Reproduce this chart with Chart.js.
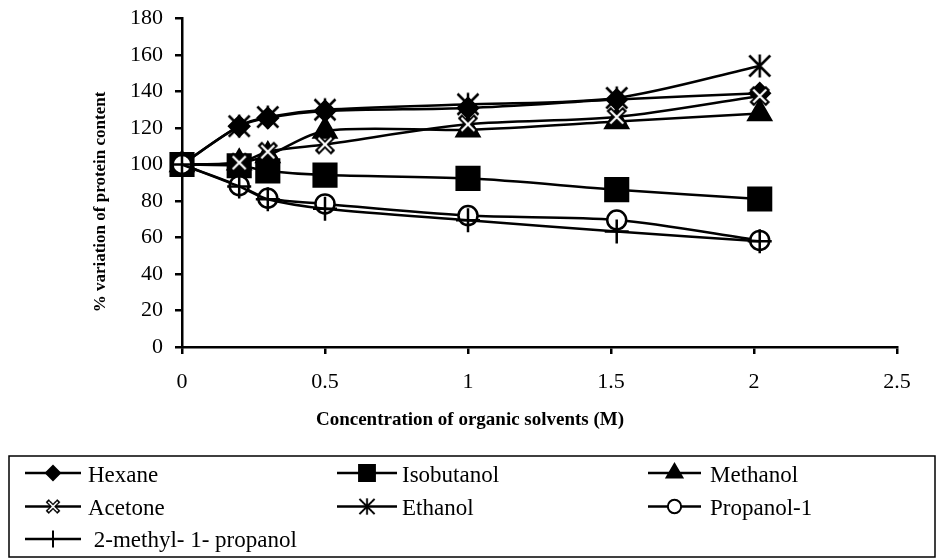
<!DOCTYPE html>
<html>
<head>
<meta charset="utf-8">
<script src="https://cdn.jsdelivr.net/npm/chart.js@4"></script>
<style>
html,body{margin:0;padding:0;background:#fff;}
#wrap{width:940px;height:559px;position:relative;}
</style>
</head>
<body>
<div id="wrap"><canvas id="c" width="940" height="559"></canvas></div>
<script>
// ---- data ----
const xValues = [0, 0.2, 0.3, 0.5, 1, 1.52, 2.02];
const seriesNames = ["Hexane", "Isobutanol", "Methanol", "Acetone", "Ethanol", "Propanol-1", " 2-methyl- 1- propanol"];
const hexane = [100, 121, 125.5, 129.3, 131, 135.6, 139];
const isobutanol = [100, 99.3, 96.5, 94.2, 92.4, 86.2, 81.1];
const methanol = [100, 101, 105, 118.4, 119, 123.5, 128];
const acetone = [100, 101, 107, 111, 122, 126, 137.5];
const ethanol = [100, 121, 126, 130, 133, 136.5, 154];
const propanol1 = [100, 88.4, 81.5, 78.4, 72, 69.6, 58.4];
const methylPropanol = [100, 88, 81, 75.8, 69.5, 63.3, 58];
const xTickValues = [0, 0.5, 1, 1.5, 2, 2.5];
const yTickValues = [0, 20, 40, 60, 80, 100, 120, 140, 160, 180];
const xTitle = "Concentration of organic solvents (M)";
const yTitle = "% variation of protein content";

// ---- custom marker glyphs ----
function makeAcetoneMarker(){
  const c = document.createElement('canvas'); c.width = 22; c.height = 22;
  const g = c.getContext('2d');
  g.lineCap = 'square';
  g.strokeStyle = '#000'; g.lineWidth = 6;
  g.beginPath(); g.moveTo(5,5); g.lineTo(17,17); g.moveTo(17,5); g.lineTo(5,17); g.stroke();
  g.strokeStyle = '#fff'; g.lineWidth = 2.2; g.lineCap = 'butt';
  g.beginPath(); g.moveTo(4.5,4.5); g.lineTo(17.5,17.5); g.moveTo(17.5,4.5); g.lineTo(4.5,17.5); g.stroke();
  return c;
}
function makeEthanolMarker(){
  const c = document.createElement('canvas'); c.width = 26; c.height = 26;
  const g = c.getContext('2d');
  g.strokeStyle = '#000'; g.lineWidth = 2.5;
  g.beginPath();
  g.moveTo(13,1.5); g.lineTo(13,24.5);
  g.moveTo(2.5,2.5); g.lineTo(23.5,23.5);
  g.moveTo(23.5,2.5); g.lineTo(2.5,23.5);
  g.stroke();
  return c;
}
const acetoneMarker = makeAcetoneMarker();
const ethanolMarker = makeEthanolMarker();

const seriesValues = [hexane, isobutanol, methanol, acetone, ethanol, propanol1, methylPropanol];
const markerStyles = [
  {pointStyle:'rectRot', radius:10, bg:'#000'},
  {pointStyle:'rect', radius:16, bg:'#000'},
  {pointStyle:'triangle', radius:13, bg:'#000'},
  {pointStyle:acetoneMarker, radius:11, bg:'#000'},
  {pointStyle:ethanolMarker, radius:12, bg:'#000'},
  {pointStyle:'circle', radius:9.5, bg:'#fff'},
  {pointStyle:'cross', radius:12, bg:'#000'}
];

const datasets = seriesValues.map((vals, i) => ({
  label: seriesNames[i],
  data: xValues.map((x, j) => ({x: x, y: vals[j]})),
  borderColor: '#000',
  borderWidth: 2.5,
  tension: 0.3,
  pointStyle: markerStyles[i].pointStyle,
  pointRadius: markerStyles[i].radius,
  pointBackgroundColor: markerStyles[i].bg,
  pointBorderColor: '#000',
  pointBorderWidth: 2.5,
  fill: false,
  clip: false,
  order: 20 - i
}));

const FONT = "'Liberation Serif', 'Times New Roman', serif";

const decorPlugin = {
  id: 'decor',
  afterDraw(chart) {
    const ctx = chart.ctx;
    ctx.save();
    // axis titles
    ctx.fillStyle = '#000';
    ctx.textAlign = 'center';
    ctx.textBaseline = 'middle';
    ctx.font = "bold 19px " + FONT;
    ctx.fillText(xTitle, 470, 420);
    ctx.save();
    ctx.translate(101, 202);
    ctx.rotate(-Math.PI/2);
    ctx.font = "bold 17px " + FONT;
    ctx.fillText(yTitle, 0, 0);
    ctx.restore();

    // legend box
    ctx.strokeStyle = '#000';
    ctx.lineWidth = 1.5;
    ctx.strokeRect(9, 456, 926, 101);
    const lineStart = [25, 337, 648];
    const lineEnd = [81, 397, 701];
    const textX = [88, 402, 710];
    const rowY = [473, 506.5, 539];
    const baseY = [482, 515, 547];
    ctx.font = "23px " + FONT;
    ctx.textAlign = 'left';
    ctx.textBaseline = 'alphabetic';
    chart.data.datasets.forEach((ds, i) => {
      const col = i % 3, row = Math.floor(i / 3);
      const y = rowY[row];
      ctx.strokeStyle = '#000';
      ctx.lineWidth = 2.5;
      ctx.beginPath();
      ctx.moveTo(lineStart[col], y);
      ctx.lineTo(lineEnd[col], y);
      ctx.stroke();
      const mx = (lineStart[col] + lineEnd[col]) / 2;
      const st = markerStyles[i];
      if (typeof st.pointStyle === 'object') {
        const im = st.pointStyle;
        const w = im.width * 0.72, h = im.height * 0.72;
        ctx.drawImage(im, mx - w/2, y - h/2, w, h);
      } else {
        ctx.fillStyle = st.bg;
        ctx.strokeStyle = '#000';
        ctx.lineWidth = 2;
        Chart.helpers.drawPoint(ctx, {pointStyle: st.pointStyle, radius: st.radius * 0.7, borderWidth: 2, rotation: 0}, mx, y);
      }
      ctx.fillStyle = '#000';
      ctx.fillText(ds.label, textX[col], baseY[row]);
    });
    ctx.restore();
  }
};

Chart.defaults.color = '#000';
Chart.defaults.font.family = FONT;

new Chart(document.getElementById('c'), {
  type: 'line',
  data: { datasets: datasets },
  options: {
    responsive: false,
    animation: false,
    devicePixelRatio: 1,
    layout: { padding: { left: 0, top: 17, right: 43, bottom: 0 } },
    plugins: { legend: { display: false }, tooltip: { enabled: false } },
    scales: {
      x: {
        type: 'linear',
        min: 0, max: 2.5,
        afterBuildTicks: (s) => { s.ticks = xTickValues.map(v => ({value: v})); },
        afterFit: (s) => { s.height = 212; s.paddingLeft = 0; s.paddingRight = 0; },
        ticks: { font: { size: 22, family: FONT }, padding: 15, maxRotation: 0, callback: (v) => String(v) },
        grid: { display: true, drawOnChartArea: false, drawTicks: true, tickLength: 7, color: '#000', lineWidth: 2.5 },
        border: { display: true, color: '#000', width: 2.5 }
      },
      y: {
        type: 'linear',
        min: 0, max: 180,
        afterBuildTicks: (s) => { s.ticks = yTickValues.map(v => ({value: v})); },
        afterFit: (s) => { s.width = 182; s.paddingTop = 0; s.paddingBottom = 0; },
        ticks: { font: { size: 22, family: FONT }, padding: 12, callback: (v) => String(v) },
        grid: { display: true, drawOnChartArea: false, drawTicks: true, tickLength: 7, color: '#000', lineWidth: 2.5 },
        border: { display: true, color: '#000', width: 2.5 }
      }
    }
  },
  plugins: [decorPlugin]
});
</script>
</body>
</html>
